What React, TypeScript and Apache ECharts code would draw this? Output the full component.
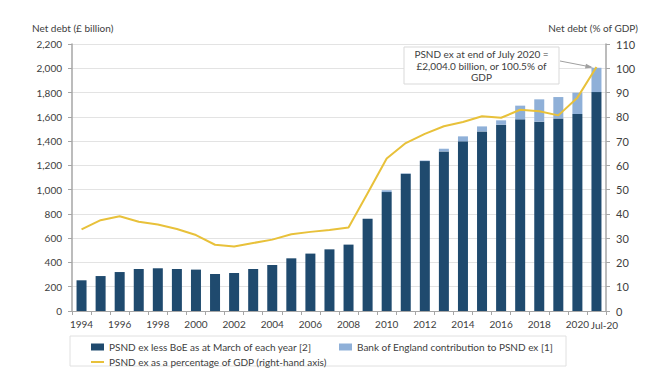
import React, { useEffect, useRef } from "react";
import * as echarts from "echarts";

const categories = [
  "1994", "1995", "1996", "1997", "1998", "1999", "2000", "2001", "2002", "2003",
  "2004", "2005", "2006", "2007", "2008", "2009", "2010", "2011", "2012", "2013",
  "2014", "2015", "2016", "2017", "2018", "2019", "2020", "Jul-20",
];

// £ billion
const psndLessBoE = [
  253, 288, 321, 346, 352, 346, 341, 305, 313, 346,
  379, 434, 473, 508, 547, 760, 980, 1131, 1235, 1315,
  1398, 1480, 1535, 1579, 1560, 1587, 1623, 1804,
];
const boeContribution = [
  0, 0, 0, 0, 0, 0, 0, 0, 0, 0,
  0, 0, 0, 0, 0, 0, 15, 3, 5, 22,
  41, 41, 36, 113, 184, 176, 176, 200,
];
// % of GDP
const psndPctGdp = [
  33.6, 37.4, 39.0, 36.8, 35.6, 33.8, 31.3, 27.3, 26.6, 28.0,
  29.4, 31.6, 32.6, 33.4, 34.4, 48.5, 62.8, 69.2, 73.0, 76.1,
  77.9, 80.2, 79.6, 82.9, 82.3, 80.6, 87.9, 100.5,
];

const leftTicks = { min: 0, max: 2200, interval: 200 };
const rightTicks = { min: 0, max: 110, interval: 10 };

const S1 = "PSND ex less BoE as at March of each year [2]";
const S2 = "Bank of England contribution to PSND ex [1]";
const S3 = "PSND ex as a percentage of GDP (right-hand axis)";

const FONT = "Lato, 'Noto Sans', sans-serif";
const TXT = "#404040";
const DARK = "#1f4a6e";
const LIGHT = "#8fb0d8";
const GOLD = "#e8c13a";

export default function App() {
  const ref = useRef<HTMLDivElement>(null);
  useEffect(() => {
    if (!ref.current) return;
    const chart = echarts.init(ref.current, null, { renderer: "svg" });
    const legendText = { fontFamily: FONT, fontSize: 10, color: TXT };
    chart.setOption({
      animation: false,
      backgroundColor: "#ffffff",
      textStyle: { fontFamily: FONT },
      grid: { left: 72, right: 55, top: 44, bottom: 77, containLabel: false },
      legend: [
        {
          data: [S1], left: 86, top: 337, itemWidth: 13, itemHeight: 7,
          icon: "rect", textStyle: legendText, itemGap: 4,
        },
        {
          data: [S2], left: 334, top: 337, itemWidth: 13, itemHeight: 7,
          icon: "rect", textStyle: legendText,
        },
        {
          data: [S3], left: 86, top: 352, itemWidth: 13, itemHeight: 2,
          icon: "rect", textStyle: legendText,
        },
      ],
      xAxis: {
        type: "category",
        data: categories,
        boundaryGap: true,
        axisLine: { lineStyle: { color: "#a6a6a6", width: 1 } },
        axisTick: { show: true, interval: 0, alignWithLabel: false, length: 4, lineStyle: { color: "#a6a6a6" } },
        axisLabel: {
          interval: (i: number) => i % 2 === 0 || i === categories.length - 1,
          color: TXT, fontSize: 10, fontFamily: FONT, margin: 8,
          formatter: (v: string) => (v === "Jul-20" ? "{j|" + v + "}" : v),
          rich: { j: { padding: [1, 0, 0, 16], color: TXT, fontSize: 10, fontFamily: FONT } },
        },
      },
      yAxis: [
        {
          type: "value",
          ...leftTicks,
          position: "left",
          axisLine: { show: true, lineStyle: { color: "#a6a6a6", width: 1.5 } },
          axisTick: { show: true, length: 4, lineStyle: { color: "#a6a6a6" } },
          axisLabel: {
            color: TXT, fontSize: 10, fontFamily: FONT, margin: 10,
            formatter: (v: number) => v.toLocaleString("en-GB"),
          },
          splitLine: { show: true, lineStyle: { color: "#e3e3e3", width: 1 } },
        },
        {
          type: "value",
          ...rightTicks,
          position: "right",
          axisLine: { show: true, lineStyle: { color: "#a6a6a6", width: 1.5 } },
          axisTick: { show: true, length: 4, lineStyle: { color: "#a6a6a6" } },
          axisLabel: { color: TXT, fontSize: 11, fontFamily: FONT, margin: 10 },
          splitLine: { show: false },
        },
      ],
      series: [
        {
          name: S1, type: "bar", stack: "debt", data: psndLessBoE,
          barWidth: 10, itemStyle: { color: DARK }, yAxisIndex: 0,
        },
        {
          name: S2, type: "bar", stack: "debt", data: boeContribution,
          barWidth: 10, itemStyle: { color: LIGHT }, yAxisIndex: 0,
        },
        {
          name: S3, type: "line", data: psndPctGdp, yAxisIndex: 1,
          showSymbol: false, symbol: "none",
          lineStyle: { color: GOLD, width: 2 }, itemStyle: { color: GOLD },
        },
      ],
      graphic: [
        { type: "text", left: 32, top: 23, style: { text: "Net debt (£ billion)", fill: TXT, font: `10px ${FONT}` } },
        { type: "text", right: 23, top: 23, style: { text: "Net debt (% of GDP)", fill: TXT, font: `10px ${FONT}`, textAlign: "right" } },
        {
          type: "rect", shape: { x: 70, y: 336, width: 496, height: 30 },
          style: { fill: "none", stroke: "#e0e0e0", lineWidth: 1 }, silent: true,
        },
        {
          type: "rect", shape: { x: 404, y: 47, width: 155, height: 37 },
          style: { fill: "#ffffff", stroke: "#d9d9d9", lineWidth: 1 }, z: 100,
        },
        {
          type: "text", x: 481.5, y: 48.5, z: 101,
          style: {
            text: "PSND ex at end of July 2020 =\n£2,004.0 billion, or 100.5% of\nGDP",
            fill: TXT, font: `10px ${FONT}`, textAlign: "center", lineHeight: 11.5,
          },
        },
        {
          type: "line", shape: { x1: 560, y1: 61, x2: 591, y2: 67 }, z: 101,
          style: { stroke: "#a0a0a0", lineWidth: 1 },
        },
        {
          type: "polygon", z: 101,
          shape: { points: [[593, 67.4], [586, 63.8], [585, 68.6]] },
          style: { fill: "#a0a0a0" },
        },
      ],
    });
    return () => chart.dispose();
  }, []);
  return (
    <div
      ref={ref}
      style={{ position: "fixed", left: 0, top: 0, width: 661, height: 388, background: "#fff" }}
    />
  );
}
